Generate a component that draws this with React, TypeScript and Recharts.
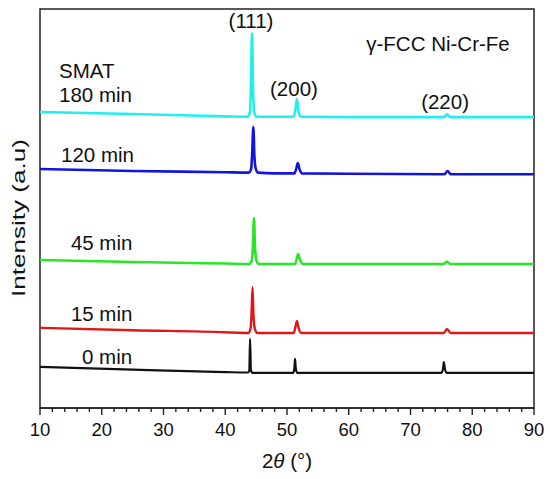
import React from 'react';
import {
  LineChart,
  Line,
  XAxis,
  YAxis,
  ReferenceArea,
  ReferenceDot,
} from 'recharts';

// 2θ positions and intensities (a.u., offset per sample)
const angles180 = [10, 25, 40, 43.6, 44.0, 44.15, 44.33, 44.5, 44.7, 45.1, 48, 51.0, 51.35, 51.6, 51.85, 52.2, 60, 75.4, 75.9, 76.4, 90];
const int180 = [74.2, 73.7, 73.1, 73.0, 74.2, 80.5, 94.0, 80.0, 74.1, 73.0, 73.0, 73.0, 74.6, 77.4, 74.5, 73.0, 72.9, 72.9, 73.6, 72.9, 72.9];

const angles120 = [10, 25, 40, 43.8, 44.2, 44.35, 44.55, 44.72, 44.95, 45.3, 48, 51.2, 51.5, 51.75, 52.0, 52.4, 60, 75.5, 76.0, 76.5, 90];
const int120 = [59.9, 59.4, 59.1, 59.0, 60.0, 63.5, 70.4, 63.2, 59.9, 59.0, 58.8, 58.8, 60.0, 61.4, 60.0, 58.8, 58.7, 58.6, 59.4, 58.6, 58.6];

const angles45 = [10, 25, 40, 43.9, 44.3, 44.48, 44.65, 44.82, 45.05, 45.4, 48, 51.3, 51.6, 51.8, 52.05, 52.5, 60, 75.4, 75.9, 76.4, 90];
const int45 = [37.1, 36.6, 36.2, 36.1, 37.0, 40.5, 47.6, 40.2, 37.0, 36.1, 36.1, 36.1, 37.5, 38.6, 37.4, 36.1, 36.1, 36.1, 36.7, 36.1, 36.1];

const angles15 = [10, 25, 40, 43.7, 44.1, 44.25, 44.42, 44.58, 44.8, 45.2, 48, 51.1, 51.4, 51.62, 51.85, 52.3, 60, 75.4, 75.9, 76.5, 90];
const int15 = [20.1, 19.5, 19.0, 18.8, 19.9, 23.5, 30.3, 23.0, 19.8, 18.8, 18.8, 18.8, 20.6, 21.8, 20.2, 18.8, 18.8, 18.8, 19.8, 18.8, 18.8];

const angles0 = [10, 25, 40, 43.7, 43.9, 44.02, 44.15, 44.4, 48, 51.0, 51.2, 51.3, 51.42, 51.65, 60, 75.0, 75.28, 75.4, 75.55, 75.85, 90];
const int0 = [10.3, 9.6, 9.0, 8.9, 9.4, 17.3, 9.6, 8.8, 8.8, 8.8, 10.0, 12.3, 10.0, 8.8, 8.8, 8.8, 10.0, 11.5, 10.0, 8.8, 8.8];

const majorTicks = [10, 20, 30, 40, 50, 60, 70, 80, 90];
const allTicks = [10, 12, 14, 16, 18, 20, 22, 24, 26, 28, 30, 32, 34, 36, 38, 40, 42, 44, 46, 48, 50, 52, 54, 56, 58, 60, 62, 64, 66, 68, 70, 72, 74, 76, 78, 80, 82, 84, 86, 88, 90];

const sampleLabels = ['SMAT', '180 min', '120 min', '45 min', '15 min', '0 min'];
const peakLabels = ['(111)', '(200)', '(220)', 'γ-FCC Ni-Cr-Fe'];

const toPoints = (a: number[], v: number[]) => a.map((x, i) => ({ a: x, v: v[i] }));

const series = [
  { key: '180', data: toPoints(angles180, int180), color: '#22EEEE', width: 2.6 },
  { key: '120', data: toPoints(angles120, int120), color: '#1414E0', width: 2.6 },
  { key: '45', data: toPoints(angles45, int45), color: '#26E626', width: 2.6 },
  { key: '15', data: toPoints(angles15, int15), color: '#E01818', width: 2.4 },
  { key: '0', data: toPoints(angles0, int0), color: '#111111', width: 2.2 },
];

// where the annotations sit, in data coordinates
const samplePos = [
  [13.08, 84.6],
  [13.08, 78.6],
  [13.4, 63.5],
  [15.0, 41.5],
  [15.0, 23.6],
  [16.8, 13.0],
];
const peakPos = [
  [44.17, 97.0],
  [51.13, 80.1],
  [75.6, 76.8],
  [74.45, 91.4],
];

const FONT = '"Liberation Sans", Arial, sans-serif';

const AxisTick = (props: any) => {
  const { x, y, payload } = props;
  const major = majorTicks.includes(payload.value);
  return (
    <g>
      <line x1={x} x2={x} y1={y} y2={y + (major ? 7 : 4)} stroke="#222" strokeWidth={1.4} />
      {major && (
        <text x={x} y={y + 21} textAnchor="middle" dominantBaseline="central" fontSize={18.5} fill="#111" fontFamily={FONT}>
          {payload.value}
        </text>
      )}
    </g>
  );
};

const textShape = (label: string, anchor: string) => (p: any) => (
  <text
    x={p.cx}
    y={p.cy}
    textAnchor={anchor}
    dominantBaseline="central"
    fontSize={20.5}
    fill="#111"
    fontFamily={FONT}
  >
    {label}
  </text>
);

export default function App() {
  return (
    <div style={{ position: 'absolute', left: 0, top: 0, background: '#fff' }}>
      <LineChart width={550} height={479} margin={{ top: 9, right: 16, left: 0, bottom: 0 }}>
        <XAxis
          type="number"
          dataKey="a"
          domain={[10, 90]}
          ticks={allTicks}
          interval={0}
          tickLine={false}
          tickSize={0}
          tickMargin={0}
          height={71}
          axisLine={{ stroke: '#222', strokeWidth: 1.5 }}
          tick={<AxisTick />}
          allowDataOverflow
          label={{
            content: () => (
              <text x={287} y={460} textAnchor="middle" dominantBaseline="central" fontSize={20.5} fill="#111" fontFamily={FONT}>
                <tspan>2</tspan>
                <tspan fontStyle="italic">θ</tspan>
                <tspan> (°)</tspan>
              </text>
            ),
          }}
        />
        <YAxis
          type="number"
          domain={[0, 100]}
          width={40}
          tick={false}
          tickLine={false}
          axisLine={false}
          allowDataOverflow
          label={{
            content: () => (
              <text
                transform="translate(19,218) rotate(-90) scale(1.45,1)"
                textAnchor="middle"
                dominantBaseline="central"
                fontSize={18}
                fill="#111"
                fontFamily={FONT}
              >
                Intensity (a.u)
              </text>
            ),
          }}
        />
        <ReferenceArea x1={10} x2={90} y1={0} y2={100} fill="none" stroke="#222" strokeWidth={1.5} ifOverflow="visible" />
        {series.map((s) => (
          <Line
            key={s.key}
            data={s.data}
            dataKey="v"
            type="monotone"
            stroke={s.color}
            strokeWidth={s.width}
            dot={false}
            activeDot={false}
            isAnimationActive={false}
          />
        ))}
        {sampleLabels.map((t, i) => (
          <ReferenceDot
            key={t}
            x={samplePos[i][0]}
            y={samplePos[i][1]}
            r={0}
            ifOverflow="visible"
            shape={textShape(t, 'start')}
          />
        ))}
        {peakLabels.map((t, i) => (
          <ReferenceDot
            key={t}
            x={peakPos[i][0]}
            y={peakPos[i][1]}
            r={0}
            ifOverflow="visible"
            shape={textShape(t, 'middle')}
          />
        ))}
      </LineChart>
    </div>
  );
}
